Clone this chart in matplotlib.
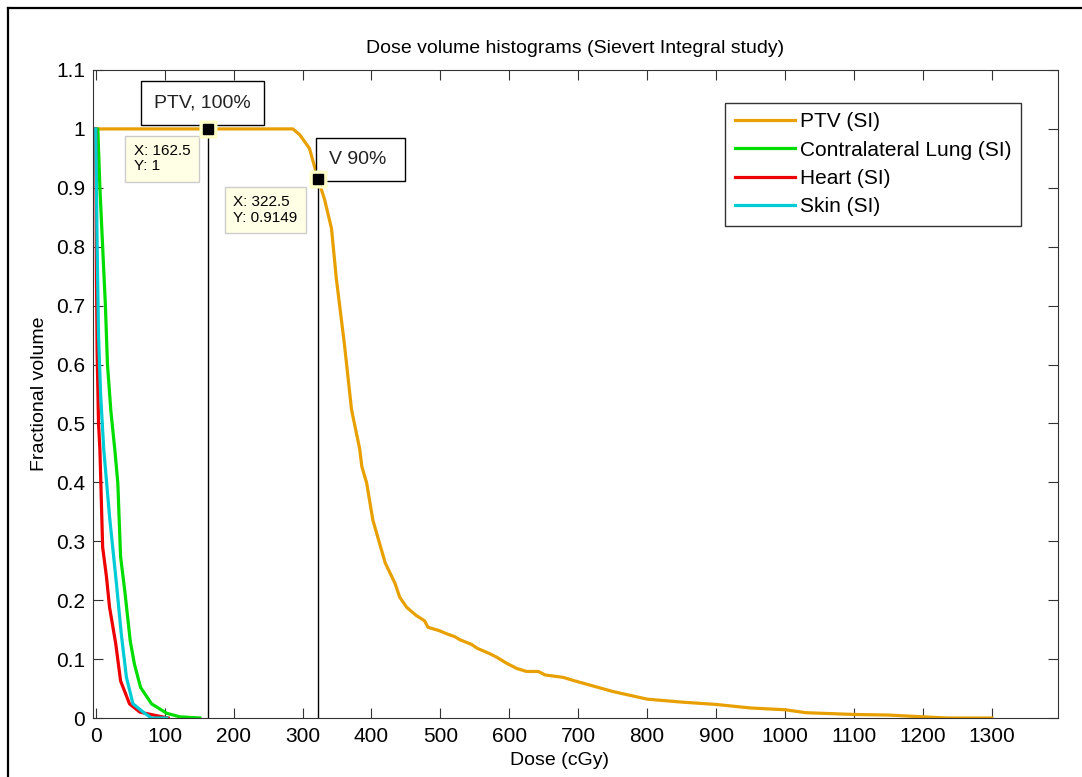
import matplotlib
matplotlib.use("Agg")
import matplotlib.pyplot as plt
from matplotlib.lines import Line2D

plt.rcParams["font.family"] = ["Liberation Sans", "DejaVu Sans"]

# dose (cGy) / fractional volume
ptv_dose = [0, 286, 296, 310, 322.5, 332, 342, 349, 361, 371, 383, 386, 393, 402,
            420, 434, 441, 451, 465, 477, 482, 499, 509, 521, 528, 545, 554, 572,
            582, 596, 611, 625, 642, 652, 678, 695, 750, 800, 850, 900, 950, 1000,
            1030, 1100, 1150, 1200, 1235, 1300]
ptv_vol = [1.0, 1.0, 0.99, 0.967, 0.9149, 0.88, 0.831, 0.746, 0.632, 0.524, 0.456,
           0.427, 0.399, 0.336, 0.263, 0.229, 0.205, 0.188, 0.174, 0.165, 0.154,
           0.148, 0.143, 0.138, 0.133, 0.125, 0.118, 0.109, 0.103, 0.093, 0.084,
           0.079, 0.079, 0.073, 0.069, 0.063, 0.045, 0.032, 0.027, 0.023, 0.017,
           0.014, 0.009, 0.006, 0.005, 0.002, 0.0, 0.0]

lung_dose = [0, 3, 6, 10, 14, 17, 22, 27.6, 32, 36, 42, 50, 56, 65, 81, 103, 122, 151]
lung_vol = [1.0, 1.0, 0.9, 0.8, 0.7, 0.6, 0.52, 0.456, 0.399, 0.274, 0.217, 0.131,
            0.092, 0.052, 0.024, 0.008, 0.002, 0.0]

heart_dose = [0, 1, 2, 4, 6, 10, 15.5, 20, 29, 36, 49, 64, 88, 105]
heart_vol = [1.0, 0.75, 0.62, 0.5, 0.456, 0.29, 0.24, 0.188, 0.126, 0.063, 0.024,
             0.01, 0.004, 0.0]

skin_dose = [0, 2, 4, 7, 11.6, 20, 30, 37, 44.5, 54, 71, 81, 103]
skin_vol = [1.0, 0.8, 0.65, 0.55, 0.456, 0.342, 0.228, 0.143, 0.069, 0.024, 0.008,
            0.0, 0.0]

tips = [(162.5, 1.0), (322.5, 0.9149)]

fig = plt.figure(figsize=(10.82, 7.77), dpi=100)
ax = fig.add_axes([93 / 1082, 59 / 777, 965 / 1082, 648 / 777])

ax.plot(ptv_dose, ptv_vol, color="#E8A000", lw=2.3, label="PTV (SI)")
ax.plot(lung_dose, lung_vol, color="#00DD00", lw=2.3, label="Contralateral Lung (SI)")
ax.plot(heart_dose, heart_vol, color="#EE0000", lw=2.3, label="Heart (SI)")
ax.plot(skin_dose, skin_vol, color="#00CCD6", lw=2.3, label="Skin (SI)")

for x, y in tips:
    ax.plot([x, x], [0, y], color="black", lw=1)
    ax.plot(x, y, marker="s", ms=13, color="#FFFFC8", mec="none", zorder=5)
    ax.plot(x, y, marker="s", ms=7, color="black", zorder=6)

ax.text(55, 0.974, "X: 162.5\nY: 1", fontsize=11, va="top", ha="left",
        linespacing=1.1,
        bbox=dict(boxstyle="square,pad=0.55", fc="#FFFFE6", ec="#CCCCCC", lw=1))
ax.text(199, 0.887, "X: 322.5\nY: 0.9149", fontsize=11, va="top", ha="left",
        linespacing=1.1,
        bbox=dict(boxstyle="square,pad=0.55", fc="#FFFFE6", ec="#CCCCCC", lw=1))

ax.text(155, 1.044, "PTV, 100%", fontsize=14, ha="center", va="center", color="#222222",
        bbox=dict(boxstyle="square,pad=0.68", fc="white", ec="black", lw=1))
ax.text(338, 0.948, "V 90% ", fontsize=14, ha="left", va="center", color="#222222",
        bbox=dict(boxstyle="square,pad=0.68", fc="white", ec="black", lw=1))

ax.set_xlim(-4, 1396)
ax.set_ylim(0, 1.1)
ax.set_xticks(range(0, 1301, 100))
yt = [i / 10 for i in range(12)]
ax.set_yticks(yt)
ax.set_yticklabels(["0", "0.1", "0.2", "0.3", "0.4", "0.5", "0.6", "0.7", "0.8",
                    "0.9", "1", "1.1"])
ax.tick_params(direction="in", top=True, right=True, length=7, labelsize=15,
               color="#333333")
ax.tick_params(axis="x", pad=6.5)
ax.tick_params(axis="y", pad=5.5)
for s in ax.spines.values():
    s.set_color("#333333")

ax.set_title("Dose volume histograms (Sievert Integral study)", fontsize=14, pad=12)
ax.set_xlabel("Dose (cGy)", fontsize=14)
ax.xaxis.set_label_coords(0.483, -0.053)
ax.set_ylabel("Fractional volume", fontsize=14, labelpad=6)

leg = ax.legend(loc="upper right", bbox_to_anchor=(1021 / 1082, 674 / 777),
                bbox_transform=fig.transFigure, borderaxespad=0, fontsize=15,
                fancybox=False, edgecolor="black", handlelength=2.9,
                labelspacing=0.45, handletextpad=0.25, borderpad=0.45)
leg.get_frame().set_linewidth(1)

# outer frame of the exported figure
fig.add_artist(Line2D([8 / 1082, 8 / 1082], [0, 769 / 777], color="black", lw=1.6,
                      transform=fig.transFigure))
fig.add_artist(Line2D([8 / 1082, 1], [769 / 777, 769 / 777], color="black", lw=1.6,
                      transform=fig.transFigure))

fig.savefig("out.png", dpi=100)
